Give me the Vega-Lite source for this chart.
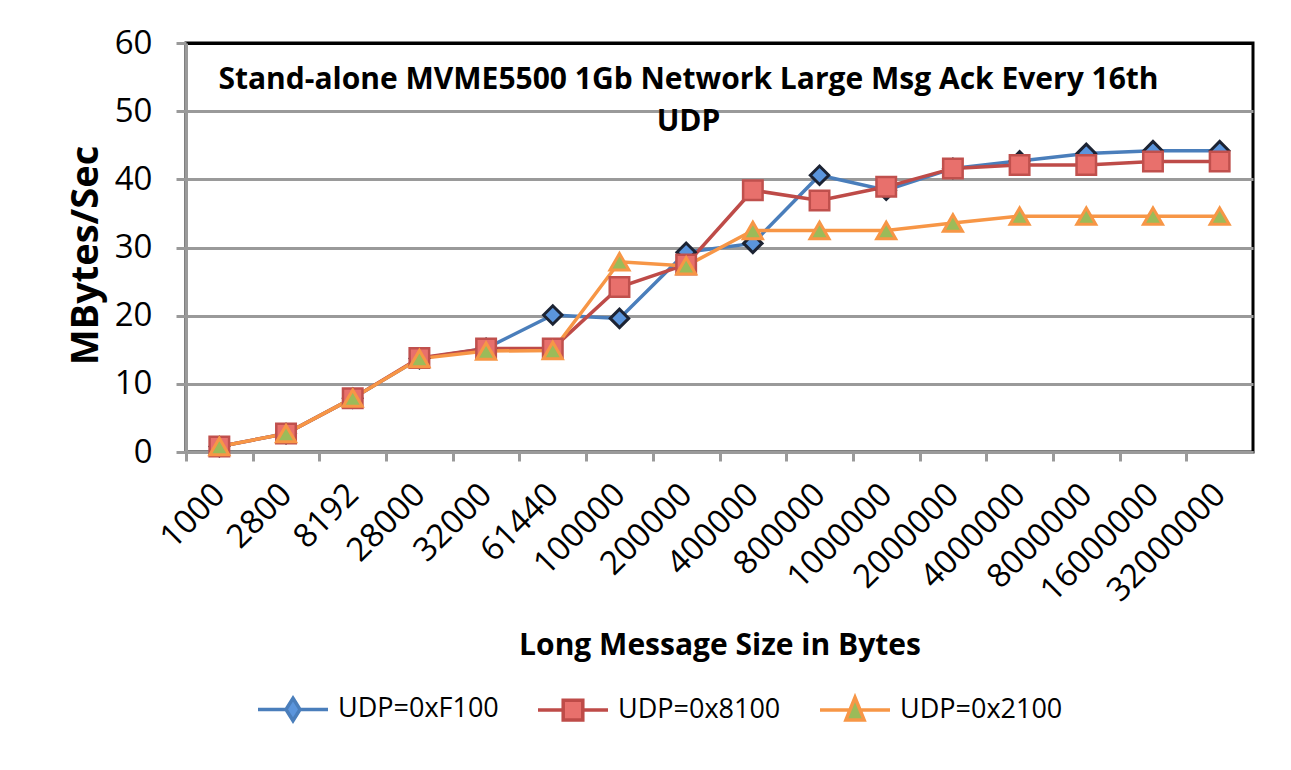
{
  "$schema": "https://vega.github.io/schema/vega-lite/v6.json",
  "autosize": {"type": "none"},
  "padding": {"left": 186, "top": 43, "right": 38, "bottom": 318},
  "width": 1067,
  "height": 409,
  "background": "white",
  "title": {
    "text": ["Stand-alone MVME5500 1Gb Network Large Msg Ack Every 16th", "UDP"],
    "font": "Open Sans",
    "fontSize": 30,
    "fontWeight": "bold",
    "color": "black",
    "anchor": "middle",
    "frame": "group",
    "baseline": "top",
    "offset": -110,
    "lineHeight": 42,
    "dx": -31
  },
  "data": {
    "values": [
      {"size": "1000", "series": "UDP=0xF100", "mbps": 0.8},
      {"size": "2800", "series": "UDP=0xF100", "mbps": 2.7},
      {"size": "8192", "series": "UDP=0xF100", "mbps": 7.9},
      {"size": "28000", "series": "UDP=0xF100", "mbps": 13.7},
      {"size": "32000", "series": "UDP=0xF100", "mbps": 15.2},
      {"size": "61440", "series": "UDP=0xF100", "mbps": 20.1},
      {"size": "100000", "series": "UDP=0xF100", "mbps": 19.6},
      {"size": "200000", "series": "UDP=0xF100", "mbps": 29.3},
      {"size": "400000", "series": "UDP=0xF100", "mbps": 30.6},
      {"size": "800000", "series": "UDP=0xF100", "mbps": 40.6},
      {"size": "1000000", "series": "UDP=0xF100", "mbps": 38.4},
      {"size": "2000000", "series": "UDP=0xF100", "mbps": 41.6},
      {"size": "4000000", "series": "UDP=0xF100", "mbps": 42.7},
      {"size": "8000000", "series": "UDP=0xF100", "mbps": 43.8},
      {"size": "16000000", "series": "UDP=0xF100", "mbps": 44.2},
      {"size": "32000000", "series": "UDP=0xF100", "mbps": 44.2},
      {"size": "1000", "series": "UDP=0x8100", "mbps": 0.8},
      {"size": "2800", "series": "UDP=0x8100", "mbps": 2.7},
      {"size": "8192", "series": "UDP=0x8100", "mbps": 7.9},
      {"size": "28000", "series": "UDP=0x8100", "mbps": 13.8},
      {"size": "32000", "series": "UDP=0x8100", "mbps": 15.2},
      {"size": "61440", "series": "UDP=0x8100", "mbps": 15.2},
      {"size": "100000", "series": "UDP=0x8100", "mbps": 24.2},
      {"size": "200000", "series": "UDP=0x8100", "mbps": 27.5},
      {"size": "400000", "series": "UDP=0x8100", "mbps": 38.4},
      {"size": "800000", "series": "UDP=0x8100", "mbps": 36.9},
      {"size": "1000000", "series": "UDP=0x8100", "mbps": 38.9},
      {"size": "2000000", "series": "UDP=0x8100", "mbps": 41.6},
      {"size": "4000000", "series": "UDP=0x8100", "mbps": 42.1},
      {"size": "8000000", "series": "UDP=0x8100", "mbps": 42.1},
      {"size": "16000000", "series": "UDP=0x8100", "mbps": 42.6},
      {"size": "32000000", "series": "UDP=0x8100", "mbps": 42.6},
      {"size": "1000", "series": "UDP=0x2100", "mbps": 0.8},
      {"size": "2800", "series": "UDP=0x2100", "mbps": 2.7},
      {"size": "8192", "series": "UDP=0x2100", "mbps": 7.9},
      {"size": "28000", "series": "UDP=0x2100", "mbps": 13.7},
      {"size": "32000", "series": "UDP=0x2100", "mbps": 14.8},
      {"size": "61440", "series": "UDP=0x2100", "mbps": 14.9},
      {"size": "100000", "series": "UDP=0x2100", "mbps": 27.9},
      {"size": "200000", "series": "UDP=0x2100", "mbps": 27.3},
      {"size": "400000", "series": "UDP=0x2100", "mbps": 32.5},
      {"size": "800000", "series": "UDP=0x2100", "mbps": 32.5},
      {"size": "1000000", "series": "UDP=0x2100", "mbps": 32.5},
      {"size": "2000000", "series": "UDP=0x2100", "mbps": 33.6},
      {"size": "4000000", "series": "UDP=0x2100", "mbps": 34.6},
      {"size": "8000000", "series": "UDP=0x2100", "mbps": 34.6},
      {"size": "16000000", "series": "UDP=0x2100", "mbps": 34.6},
      {"size": "32000000", "series": "UDP=0x2100", "mbps": 34.6}
    ]
  },
  "encoding": {
    "x": {
      "field": "size",
      "type": "ordinal",
      "sort": null,
      "scale": {"type": "point", "padding": 0.5},
      "axis": {
        "title": "Long Message Size in Bytes",
        "titleFontSize": 30,
        "titleFontWeight": "bold",
        "titleColor": "black",
        "titleY": 193,
        "titleBaseline": "middle",
        "labelAngle": -45,
        "labelAlign": "right",
        "labelBaseline": "middle",
        "labelFontSize": 33,
        "labelColor": "black",
        "labelPadding": 28,
        "labelOverlap": false,
        "tickOffset": -33.34,
        "labelOffset": 33.34,
        "tickSize": 9,
        "grid": false
      }
    },
    "y": {
      "field": "mbps",
      "type": "quantitative",
      "scale": {"domain": [0, 60], "nice": false},
      "axis": {
        "title": "MBytes/Sec",
        "titleFontSize": 38,
        "titleFontWeight": "bold",
        "titleColor": "black",
        "titleX": -100,
        "titleY": 212,
        "titleAlign": "center",
        "titleBaseline": "middle",
        "values": [0, 10, 20, 30, 40, 50, 60],
        "labelFontSize": 33,
        "labelColor": "black",
        "labelPadding": 24,
        "tickSize": 10,
        "grid": true,
        "gridColor": {"condition": {"test": "datum.value === 60", "value": "black"}, "value": "#9a9a9a"},
        "gridWidth": 3
      }
    }
  },
  "layer": [
    {
      "mark": {"type": "line", "strokeWidth": 3.5},
      "encoding": {
        "color": {
          "field": "series",
          "type": "nominal",
          "sort": null,
          "scale": {"domain": ["UDP=0xF100", "UDP=0x8100", "UDP=0x2100"], "range": ["#4a7ebb", "#be4b48", "#f79646"]},
          "legend": {
            "title": null,
            "orient": "none",
            "legendX": 70,
            "legendY": 629,
            "direction": "horizontal",
            "columnPadding": 32,
            "labelFontSize": 27,
            "labelColor": "black",
            "labelOffset": 8,
            "symbolSize": 4900,
            "symbolStrokeWidth": 3.5,
            "labelLimit": 400,
            "encode": {
              "symbols": {
                "update": {
                  "shape": {"signal": "datum.value === 'UDP=0xF100' ? 'M-1,0H-0.2M0.2,0H1M0,-0.32L0.2,0L0,0.32L-0.2,0Z' : datum.value === 'UDP=0x8100' ? 'M-1,0H-0.28M0.28,0H1M-0.28,-0.28H0.28V0.28H-0.28Z' : 'M-1,0H-0.14M0.14,0H1M0,-0.36L0.26,0.28H-0.26Z'"},
                  "fill": {"signal": "datum.value === 'UDP=0xF100' ? '#5b95dc' : datum.value === 'UDP=0x8100' ? '#e8706c' : '#9bbb59'"},
                  "strokeWidth": {"value": 3.5},
                  "size": {"value": 4900},
                  "opacity": {"value": 1}
                }
              }
            }
          }
        }
      }
    },
    {
      "transform": [{"filter": "datum.series === 'UDP=0xF100'"}],
      "mark": {"type": "point", "shape": "diamond", "filled": true, "fill": "#5b95dc", "stroke": "#1c2333", "strokeWidth": 3, "size": 340, "opacity": 1}
    },
    {
      "transform": [{"filter": "datum.series === 'UDP=0x8100'"}],
      "mark": {"type": "point", "shape": "square", "filled": true, "fill": "#e8706c", "stroke": "#c0504d", "strokeWidth": 2.5, "size": 380, "opacity": 1}
    },
    {
      "transform": [{"filter": "datum.series === 'UDP=0x2100'"}],
      "mark": {"type": "point", "shape": "triangle-up", "filled": true, "fill": "#9bbb59", "stroke": "#f79646", "strokeWidth": 3, "size": 360, "opacity": 1}
    }
  ],
  "config": {
    "font": "Open Sans",
    "view": {"stroke": "black", "strokeWidth": 3},
    "axis": {
      "domainColor": "#9a9a9a",
      "domainWidth": 3,
      "tickColor": "#9a9a9a",
      "tickWidth": 3,
      "labelFont": "Open Sans",
      "titleFont": "Open Sans"
    },
    "legend": {"labelFont": "Open Sans"}
  }
}
